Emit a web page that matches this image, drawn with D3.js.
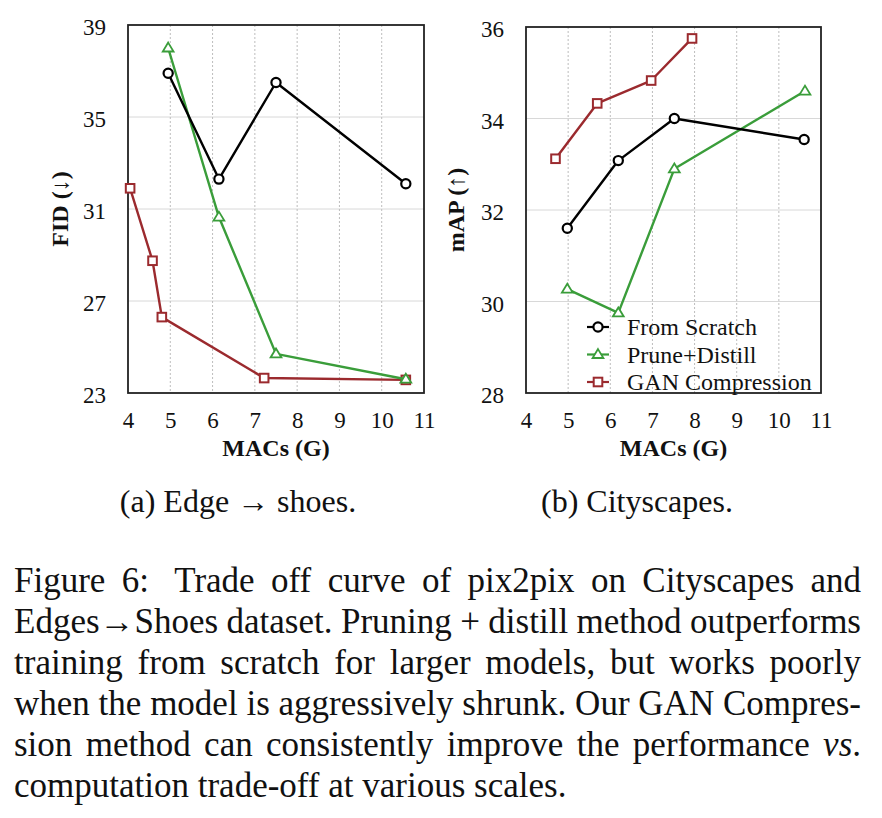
<!DOCTYPE html>
<html>
<head>
<meta charset="utf-8">
<script src="https://cdn.jsdelivr.net/npm/d3@7"></script>
<style>
  html, body { margin: 0; padding: 0; background: #fff; }
  body { width: 882px; height: 818px; position: relative; overflow: hidden; }
  svg { position: absolute; left: 0; top: 0; }
</style>
</head>
<body>
<svg id="chart" width="882" height="818"></svg>
<script>
// ---------- data ----------
const xTicks = [4, 5, 6, 7, 8, 9, 10, 11];
const fidTicks = [23, 27, 31, 35, 39];
const mapTicks = [28, 30, 32, 34, 36];
const seriesNames = ["From Scratch", "Prune+Distill", "GAN Compression"];

// (a) Edge -> shoes : FID
const edgeScratchMACs = [4.95, 6.15, 7.5, 10.57];
const edgeScratchFID  = [36.9, 32.3, 36.5, 32.1];
const edgePruneMACs   = [4.95, 6.15, 7.5, 10.57];
const edgePruneFID    = [38.0, 30.65, 24.7, 23.6];
const edgeGanMACs     = [4.05, 4.58, 4.8, 7.22, 10.57];
const edgeGanFID      = [31.9, 28.75, 26.3, 23.65, 23.57];

// (b) Cityscapes : mAP
const cityScratchMACs = [4.98, 6.19, 7.52, 10.6];
const cityScratchMAP  = [31.6, 33.08, 34.0, 33.54];
const cityPruneMACs   = [4.98, 6.19, 7.52, 10.62];
const cityPruneMAP    = [30.27, 29.75, 32.9, 34.6];
const cityGanMACs     = [4.7, 5.69, 6.97, 7.94];
const cityGanMAP      = [33.12, 34.33, 34.83, 35.75];

// caption text (one entry per printed line; segments in [] are italic)
const captionLines = [
  "Figure 6:  Trade off curve of pix2pix on Cityscapes and",
  "Edges\u2192Shoes dataset. Pruning + distill method outperforms",
  "training from scratch for larger models, but works poorly",
  "when the model is aggressively shrunk. Our GAN Compres-",
  "sion method can consistently improve the performance [vs].",
  "computation trade-off at various scales."
];

// ---------- styles ----------
const colors = { "From Scratch": "#000000", "Prune+Distill": "#3a9d3a", "GAN Compression": "#9b2a2e" };
const markers = { "From Scratch": "circle", "Prune+Distill": "triangle", "GAN Compression": "square" };
const FONT = "'Liberation Serif', Tinos, 'Times New Roman', serif";

const svg = d3.select("#chart");

function drawMarker(g, type, x, y, color) {
  if (type === "circle") {
    g.append("circle").attr("cx", x).attr("cy", y).attr("r", 4.6)
      .attr("fill", "#fff").attr("stroke", color).attr("stroke-width", 2.2);
  } else if (type === "square") {
    g.append("rect").attr("x", x - 4.3).attr("y", y - 4.3).attr("width", 8.6).attr("height", 8.6)
      .attr("fill", "#fff").attr("stroke", color).attr("stroke-width", 2);
  } else {
    const s = 5.4;
    g.append("path").attr("d", `M${x},${y - s}L${x + s},${y + s * 0.65}L${x - s},${y + s * 0.65}Z`)
      .attr("fill", "#fff").attr("stroke", color).attr("stroke-width", 1.8);
  }
}

function panel(opt) {
  const x = d3.scaleLinear().domain([4, 11]).range([opt.left, opt.right]);
  const y = d3.scaleLinear().domain(opt.yDomain).range([opt.bottom, opt.top]);
  const g = svg.append("g");

  // grid
  g.selectAll(".hg").data(opt.yTicks.slice(1, -1)).enter().append("line")
    .attr("x1", opt.left).attr("x2", opt.right)
    .attr("y1", d => y(d)).attr("y2", d => y(d))
    .attr("stroke", "#d8d8d8").attr("stroke-width", 1);
  g.selectAll(".vg").data(xTicks.slice(1, -1)).enter().append("line")
    .attr("x1", d => x(d)).attr("x2", d => x(d))
    .attr("y1", opt.top).attr("y2", opt.bottom)
    .attr("stroke", "#bdbdbd").attr("stroke-width", 1).attr("stroke-dasharray", "2,2");

  // axes via d3 (no tick lines, no domain)
  const xAxis = g.append("g").attr("transform", `translate(0,${opt.bottom})`)
    .call(d3.axisBottom(x).tickValues(xTicks).tickSize(0).tickPadding(19).tickFormat(d3.format("d")));
  const yAxis = g.append("g").attr("transform", `translate(${opt.left},0)`)
    .call(d3.axisLeft(y).tickValues(opt.yTicks).tickSize(0).tickPadding(22).tickFormat(d3.format("d")));
  yAxis.selectAll("text").attr("dy", "0.43em");
  [xAxis, yAxis].forEach(a => {
    a.select(".domain").remove();
    a.attr("font-family", null).attr("font-size", null);
    a.selectAll("text").style("font-family", FONT).style("font-size", "23px").attr("fill", "#111");
  });

  // frame
  g.append("rect").attr("x", opt.left).attr("y", opt.top)
    .attr("width", opt.right - opt.left).attr("height", opt.bottom - opt.top)
    .attr("fill", "none").attr("stroke", "#222").attr("stroke-width", 1.8);

  // series
  const line = d3.line().x(d => x(d[0])).y(d => y(d[1]));
  opt.series.forEach(s => {
    const pts = s.xs.map((v, i) => [v, s.ys[i]]);
    const c = colors[s.name];
    g.append("path").datum(pts).attr("d", line).attr("fill", "none")
      .attr("stroke", c).attr("stroke-width", 2.4).attr("stroke-linejoin", "round");
    pts.forEach(p => drawMarker(g, markers[s.name], x(p[0]), y(p[1]), c));
  });

  // axis titles
  g.append("text").attr("x", (opt.left + opt.right) / 2).attr("y", 456)
    .attr("text-anchor", "middle").style("font-family", FONT).style("font-weight", "bold")
    .style("font-size", "24px").attr("fill", "#111").text("MACs (G)");
  g.append("text").attr("transform", `translate(${opt.yTitleX},${(opt.top + opt.bottom) / 2}) rotate(-90)`)
    .attr("text-anchor", "middle").style("font-family", FONT).style("font-weight", "bold")
    .style("font-size", "24px").attr("fill", "#111").text(opt.yTitle);

  // subcaption
  svg.append("text").attr("x", opt.capX).attr("y", 512).attr("text-anchor", "middle")
    .style("font-family", FONT).style("font-size", "32px").attr("fill", "#111").text(opt.caption);

  return { g, x, y };
}

panel({
  left: 128, right: 424, top: 25, bottom: 393, yDomain: [23, 39], yTicks: fidTicks,
  yTitle: "FID (\u2193)", yTitleX: 68, caption: "(a) Edge \u2192 shoes.", capX: 238,
  series: [
    { name: "GAN Compression", xs: edgeGanMACs, ys: edgeGanFID },
    { name: "Prune+Distill", xs: edgePruneMACs, ys: edgePruneFID },
    { name: "From Scratch", xs: edgeScratchMACs, ys: edgeScratchFID }
  ]
});

panel({
  left: 526, right: 821, top: 27, bottom: 393, yDomain: [28, 36], yTicks: mapTicks,
  yTitle: "mAP (\u2191)", yTitleX: 464, caption: "(b) Cityscapes.", capX: 637,
  series: [
    { name: "GAN Compression", xs: cityGanMACs, ys: cityGanMAP },
    { name: "Prune+Distill", xs: cityPruneMACs, ys: cityPruneMAP },
    { name: "From Scratch", xs: cityScratchMACs, ys: cityScratchMAP }
  ]
});

// legend
const lg = svg.append("g");
seriesNames.forEach((n, i) => {
  const cy = 327 + i * 27.5;
  const c = colors[n];
  lg.append("line").attr("x1", 587).attr("x2", 609).attr("y1", cy).attr("y2", cy)
    .attr("stroke", c).attr("stroke-width", 2.2);
  drawMarker(lg, markers[n], 598, cy, c);
  lg.append("text").attr("x", 627).attr("y", cy).attr("dy", "0.35em")
    .style("font-family", FONT).style("font-size", "24px").attr("fill", "#111").text(n);
});

// figure caption: justified lines, word-by-word
const capLeft = 14, capRight = 861, capSize = 35;
const cg = svg.append("g").style("font-family", FONT).style("font-size", capSize + "px").attr("fill", "#111");
captionLines.forEach((ln, i) => {
  const baseY = 592 + i * 41;
  const parts = ln.split(/( +)/);           // keep separators to detect double spaces
  const words = parts.filter((p, k) => k % 2 === 0);
  const seps = parts.filter((p, k) => k % 2 === 1).map(s => s.length);
  const nodes = words.map(w => {
    const t = cg.append("text").attr("y", baseY);
    const m = w.match(/^(.*)\[(.*)\](.*)$/);
    if (m) {
      t.append("tspan").text(m[1]);
      t.append("tspan").style("font-style", "italic").text(m[2]);
      t.append("tspan").text(m[3]);
    } else {
      t.text(w);
    }
    return t;
  });
  const widths = nodes.map(t => t.node().getComputedTextLength());
  const total = d3.sum(widths);
  const last = i === captionLines.length - 1;
  const spaceW = capSize * 0.25;
  const extra = d3.sum(seps, s => (s - 1) * spaceW);
  const gap = last ? spaceW : (capRight - capLeft - total - extra) / (words.length - 1);
  let xPos = capLeft;
  nodes.forEach((t, k) => {
    t.attr("x", xPos);
    xPos += widths[k] + gap + (k < seps.length ? (seps[k] - 1) * spaceW : 0);
  });
});
</script>
</body>
</html>
